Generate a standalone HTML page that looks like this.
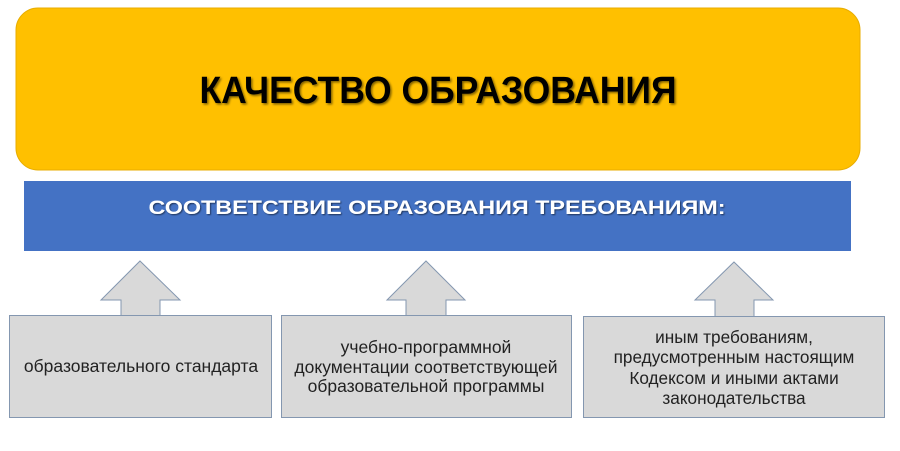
<!DOCTYPE html>
<html><head><meta charset="utf-8"><style>
html,body{margin:0;padding:0;background:#fff;width:900px;height:451px;overflow:hidden}
svg{display:block}
text{font-family:"Liberation Sans",sans-serif}
</style></head><body>
<svg width="900" height="451" viewBox="0 0 900 451" xmlns="http://www.w3.org/2000/svg">
<defs>
<filter id="sh" x="-5%" y="-20%" width="110%" height="150%"><feDropShadow dx="1.5" dy="1.5" stdDeviation="1" flood-color="#000" flood-opacity="0.5"/></filter>
<filter id="sh2" x="-5%" y="-20%" width="110%" height="150%"><feDropShadow dx="1" dy="1" stdDeviation="0.8" flood-color="#000" flood-opacity="0.55"/></filter>
</defs>
<rect x="16" y="8" width="844" height="162" rx="22" fill="#ffc000" stroke="#e8ad00" stroke-width="1"/>
<text x="438" y="103" font-size="38" font-weight="bold" fill="#000" text-anchor="middle" textLength="477" lengthAdjust="spacingAndGlyphs" filter="url(#sh)">КАЧЕСТВО ОБРАЗОВАНИЯ</text>
<rect x="24" y="181" width="827" height="70" fill="#4472c4"/>
<text x="437" y="214" font-size="19" font-weight="bold" fill="#fff" text-anchor="middle" textLength="577" lengthAdjust="spacingAndGlyphs" filter="url(#sh2)">СООТВЕТСТВИЕ ОБРАЗОВАНИЯ ТРЕБОВАНИЯМ:</text>
<g fill="#d9d9d9" stroke="#8497b0" stroke-width="1">
<polygon points="140,261 180,300 160,300 160,316 121,316 121,300 101,300"/>
<polygon points="426,261 465,300 446,300 446,316 406,316 406,300 387,300"/>
<polygon points="734,262 773,300 754,300 754,317 715,317 715,300 695,300"/>
<rect x="9.5" y="315.5" width="262" height="102"/>
<rect x="281.5" y="315.5" width="290" height="102"/>
<rect x="583.5" y="316.5" width="301" height="101"/>
</g>
<g font-size="17.5" fill="#222" text-anchor="middle">
<text x="141" y="372">образовательного стандарта</text>
<text x="426" y="353">учебно-программной</text>
<text x="426" y="373">документации соответствующей</text>
<text x="426" y="392">образовательной программы</text>
</g>
<g font-size="17.2" fill="#222" text-anchor="middle">
<text x="734" y="343">иным требованиям,</text>
<text x="734" y="363">предусмотренным настоящим</text>
<text x="734" y="384">Кодексом и иными актами</text>
<text x="734" y="404">законодательства</text>
</g>
</svg>
</body></html>
